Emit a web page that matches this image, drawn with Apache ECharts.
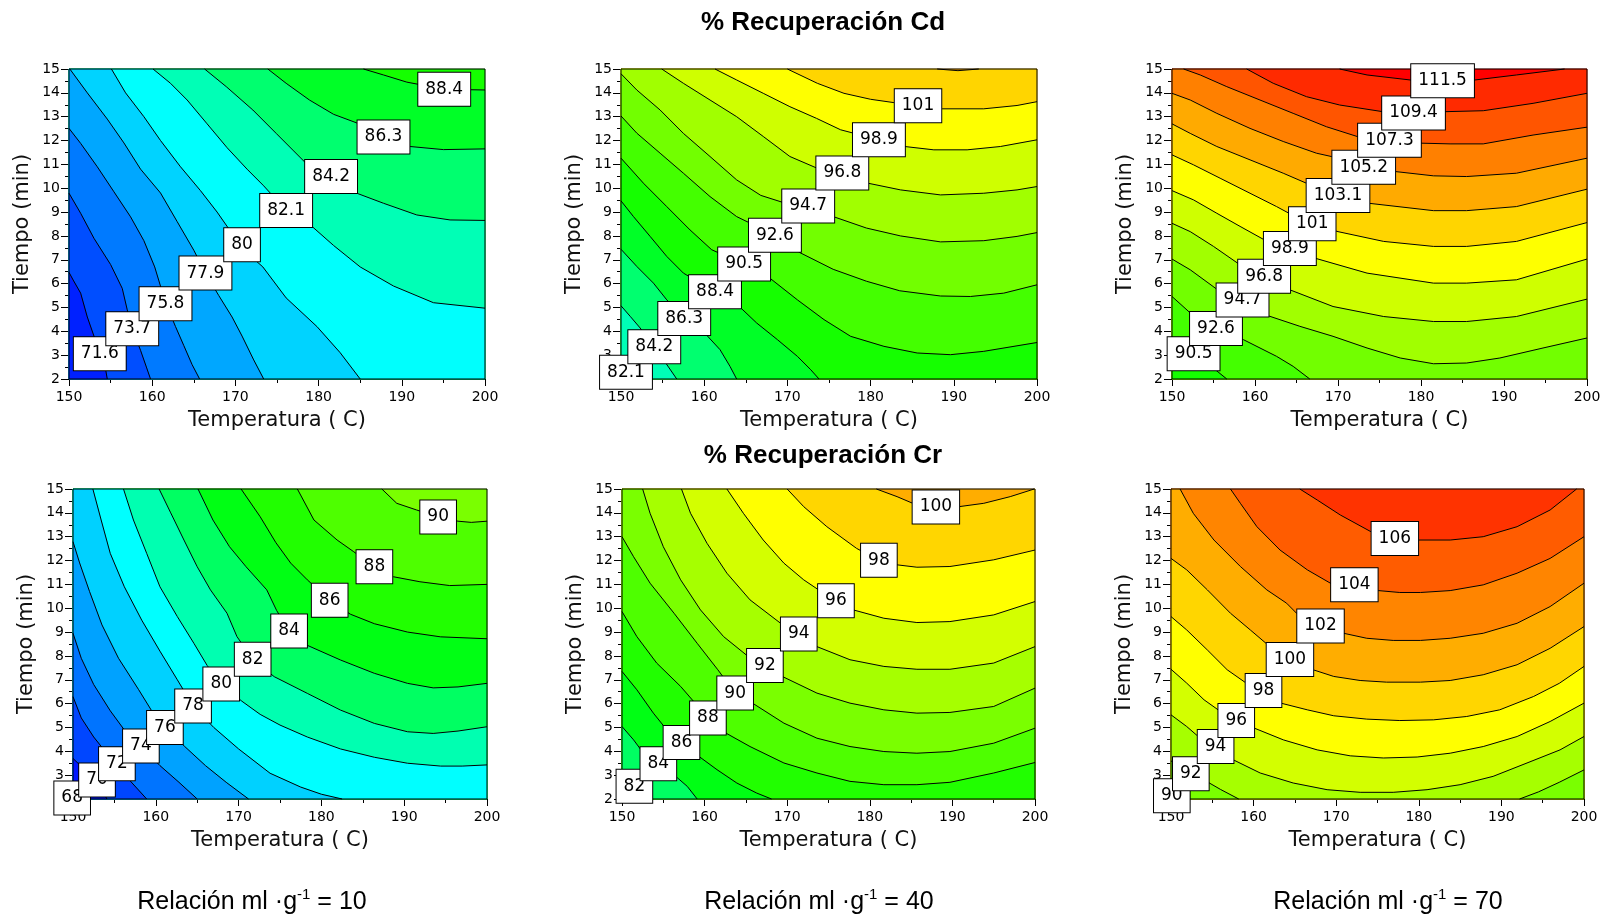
<!DOCTYPE html>
<html>
<head>
<meta charset="utf-8">
<title>% Recuperación Cd / Cr</title>
<script src="https://cdn.jsdelivr.net/npm/echarts/dist/echarts.min.js"></script>
<style>
  html, body { margin: 0; padding: 0; background: #fff; }
  #chart { width: 1608px; height: 921px; }
</style>
</head>
<body>
<div id="chart"></div>
<script>
  // ejes
  const tempTicks = [150, 160, 170, 180, 190, 200];
  const timeTicks = [2, 3, 4, 5, 6, 7, 8, 9, 10, 11, 12, 13, 14, 15];
  const ratios = [10, 40, 70];
  const cdStep = 2.1;
  const crStep = 2;

  // curvas de nivel: [nivel, [[temperatura, tiempo], ...]]
  const cd10Lines = [
    [71.6, [[150, 6.47], [150.5, 6.15], [151.4, 5.6], [152.2, 4.6], [153, 3.8], [153.8, 3.0], [154.4, 2.4], [154.6, 2]]],
    [73.7, [[150, 9.79], [151.4, 8.95], [153, 7.9], [155, 6.8], [156.4, 5.8], [157, 4.9], [157.6, 4.1], [158.6, 3.2], [159.3, 2.5], [159.8, 2]]],
    [75.8, [[150, 12.51], [151.4, 11.88], [153.4, 10.9], [155.4, 9.85], [157.4, 8.8], [159, 7.8], [160.3, 6.7], [161.6, 5.2], [162.8, 4.2], [163.8, 3.4], [164.8, 2.6], [165.7, 2]]],
    [77.9, [[150.1, 15], [152.2, 14], [154.6, 12.9], [156.6, 11.9], [158.6, 10.8], [161, 9.8], [163, 8.6], [165, 7.4], [166.4, 6.44], [168, 5.5], [169.6, 4.6], [170.8, 3.8], [172.2, 2.8], [173.4, 2]]],
    [80, [[155.1, 15], [156.8, 14], [159, 13], [161, 12], [163.4, 10.9], [165.8, 9.9], [167.8, 9], [169.4, 8.2], [170.8, 7.6], [172, 7.1], [173.3, 6.7], [176.1, 5.4], [179.8, 4.2], [182.6, 3.1], [185, 2]]],
    [82.1, [[160.1, 15], [162.2, 14.4], [164.2, 13.7], [166.6, 12.7], [169, 11.7], [171.4, 10.8], [173.4, 10.1], [176.1, 9.07], [179.2, 8.4], [181.8, 7.6], [185, 6.7], [189, 5.9], [193.8, 5.2], [200, 4.97]]],
    [84.2, [[166.3, 15], [168.9, 14.26], [172.1, 13.28], [174.9, 12.3], [176.9, 11.6], [178.9, 10.9], [181.5, 10.45], [184.6, 9.79], [187.8, 9.37], [191.8, 8.88], [195.8, 8.67], [200, 8.65]]],
    [86.3, [[173.9, 15], [176.1, 14.4], [178.9, 13.7], [181.8, 13.1], [184.5, 12.75], [187.8, 12.17], [191, 11.75], [195, 11.62], [200, 11.65]]],
    [88.4, [[185.4, 15], [187.8, 14.75], [190.6, 14.45], [195.1, 14.15], [200, 14.12]]]
  ];
  const cd10Labels = [[153.7, 3.06, 71.6], [157.6, 4.11, 73.7], [161.6, 5.16, 75.8], [166.4, 6.44, 77.9], [170.8, 7.63, 80],
    [176.1, 9.07, 82.1], [181.5, 10.49, 84.2], [187.8, 12.15, 86.3], [195.1, 14.15, 88.4]];

  const cd40Lines = [
    [82.1, [[150, 2.5], [150.6, 2.28], [151.2, 2]]],
    [84.2, [[150, 5.07], [151.1, 4.63], [152.3, 4.14], [153.5, 3.51], [155.1, 2.81], [156.7, 2]]],
    [86.3, [[150, 7.44], [151.9, 6.72], [153.9, 6.02], [155.5, 5.32], [157.6, 4.54], [160, 3.95], [161.9, 3.23], [163.1, 2.53], [163.9, 2]]],
    [88.4, [[150, 9.47], [151.5, 8.81], [153.5, 7.98], [155.5, 7.14], [157.5, 6.44], [161.3, 5.66], [164.4, 4.98], [166.3, 4.35], [168.8, 3.65], [171.2, 2.95], [172.8, 2.39], [173.8, 2]]],
    [90.5, [[150, 11.26], [152.7, 10.21], [155.5, 9.23], [158.3, 8.25], [160.9, 7.42], [164.8, 6.82], [168, 6.2], [171.2, 5.32], [174.4, 4.49], [177.6, 3.79], [181.6, 3.37], [185.6, 3.09], [189.6, 3.02], [193.6, 3.16], [200, 3.53]]],
    [92.6, [[150, 13.03], [151.9, 12.31], [154.7, 11.47], [157.5, 10.63], [160.7, 9.65], [163.9, 8.81], [168.5, 8.03], [171.5, 7.3], [175.5, 6.6], [179.5, 6.1], [183.5, 5.7], [188.4, 5.48], [192, 5.46], [196, 5.6], [200, 5.95]]],
    [94.7, [[150, 14.8], [151.9, 14.12], [154.7, 13.28], [157.5, 12.3], [160.7, 11.33], [163.9, 10.35], [166.8, 9.7], [169.5, 9.4], [172.5, 9.2], [175.6, 8.8], [179.5, 8.33], [183.6, 8.0], [188.4, 7.75], [193.6, 7.8], [197.6, 7.98], [200, 8.14]]],
    [96.8, [[154.9, 15], [157.5, 14.4], [160.7, 13.7], [163.9, 13.0], [167.1, 12.17], [170.3, 11.33], [173.5, 10.85], [176.6, 10.6], [179.7, 10.21], [183.6, 9.93], [188.4, 9.72], [193.6, 9.79], [197.6, 9.93], [200, 10.07]]],
    [98.9, [[161.3, 15], [163.9, 14.54], [167.1, 13.98], [170.3, 13.42], [173.5, 12.93], [176.4, 12.45], [181, 12.03], [184.1, 11.75], [187.6, 11.61], [191.6, 11.61], [195.6, 11.75], [200, 12.03]]],
    [101, [[170, 15], [173.6, 14.4], [176.8, 13.98], [180, 13.73], [182.8, 13.59], [185.7, 13.46], [188.6, 13.33], [193.6, 13.33], [197.6, 13.47], [200, 13.63]]],
    [103.1, [[188, 15], [190.5, 14.93], [193, 15]]]
  ];
  const cd40Labels = [[150.6, 2.28, 82.1], [154, 3.35, 84.2], [157.6, 4.54, 86.3], [161.3, 5.66, 88.4], [164.8, 6.82, 90.5],
    [168.5, 8.03, 92.6], [172.5, 9.26, 94.7], [176.6, 10.64, 96.8], [181, 12.03, 98.9], [185.7, 13.46, 101]];

  const cd70Lines = [
    [90.5, [[150, 3.2], [152.6, 3.06], [155, 2.45], [156.6, 2]]],
    [92.6, [[150, 5.46], [152.2, 4.77], [155.3, 4.12], [158.6, 3.65], [162.6, 2.95], [164.6, 2.53], [166.6, 2]]],
    [94.7, [[150, 7.03], [152.2, 6.58], [155.5, 5.74], [158.5, 5.31], [161.6, 4.65], [165.4, 4.21], [169.4, 3.79], [173.5, 3.3], [177.5, 2.88], [181.5, 2.64], [185.5, 2.67], [189.5, 2.88], [194.7, 3.3], [200, 3.72]]],
    [96.8, [[150, 8.53], [152.2, 8.18], [155, 7.56], [157.9, 6.86], [161.1, 6.31], [164.2, 5.74], [169.4, 5.04], [175.5, 4.62], [181.5, 4.41], [185.5, 4.41], [191.5, 4.62], [200, 5.35]]],
    [98.9, [[150, 9.9], [152.6, 9.51], [155.4, 8.95], [158.2, 8.4], [161.1, 7.84], [164.2, 7.47], [167.2, 7.07], [173.5, 6.44], [181.5, 6.02], [185.5, 6.02], [191.5, 6.16], [200, 7.03]]],
    [101, [[150, 11.4], [152.6, 10.98], [155.8, 10.42], [159.4, 9.79], [162.6, 9.23], [164.1, 8.95], [166.9, 8.51], [170, 8.18], [175.5, 7.77], [181.5, 7.56], [185.5, 7.56], [191.5, 7.77], [200, 8.56]]],
    [103.1, [[150, 12.7], [152.2, 12.3], [155.4, 11.75], [159.4, 11.19], [163.4, 10.63], [166.2, 10.21], [170, 9.69], [173.7, 9.37], [181.5, 9.06], [185.5, 9.06], [191.5, 9.23], [200, 9.96]]],
    [105.2, [[150, 13.98], [152.2, 13.7], [155.4, 13.14], [159.4, 12.51], [163.4, 11.96], [167.4, 11.47], [169.2, 11.33], [173.1, 10.88], [176.9, 10.7], [181.5, 10.52], [185.5, 10.49], [191.5, 10.63], [200, 11.26]]],
    [107.3, [[151.4, 15], [153.4, 14.75], [156.6, 14.26], [160.6, 13.7], [164.6, 13.14], [168.6, 12.58], [172.4, 12.16], [176.2, 12.01], [180, 11.89], [183.5, 11.86], [187.5, 11.86], [193.5, 12.23], [200, 12.56]]],
    [109.4, [[159, 15], [162.2, 14.4], [166.2, 13.84], [170.2, 13.49], [175.4, 13.21], [179.1, 13.16], [182.9, 13.21], [187.5, 13.25], [193.5, 13.56], [200, 13.98]]],
    [111.5, [[170.2, 15], [173.5, 14.75], [178.7, 14.54], [182.6, 14.5], [186.5, 14.54], [191.5, 14.75], [197.3, 15]]]
  ];
  const cd70Labels = [[152.6, 3.06, 90.5], [155.3, 4.12, 92.6], [158.5, 5.31, 94.7], [161.1, 6.31, 96.8], [164.2, 7.47, 98.9],
    [166.9, 8.51, 101], [170, 9.69, 103.1], [173.1, 10.88, 105.2], [176.2, 12.01, 107.3], [179.1, 13.16, 109.4], [182.6, 14.51, 111.5]];

  const cr10Lines = [
    [68, [[150, 2.4], [150.6, 2]]],
    [70, [[150, 3.7], [151.5, 3.2], [152.9, 2.75], [154.1, 2]]],
    [72, [[150, 6.29], [151, 5.4], [152.5, 4.6], [154, 3.95], [155.3, 3.48], [156.8, 2.8], [158.9, 2]]],
    [74, [[150, 8.95], [151, 7.9], [152.5, 6.8], [154.5, 5.7], [156.4, 4.8], [158.2, 4.22], [160.5, 3.4], [162.8, 2.7], [165, 2]]],
    [76, [[150, 12.79], [150.8, 11.9], [152, 10.7], [153.5, 9.3], [155.5, 7.9], [157.9, 6.6], [159.5, 5.7], [161.1, 5.0], [163.5, 4.2], [166, 3.4], [168.5, 2.7], [171.2, 2]]],
    [78, [[152.4, 15], [153.4, 13.7], [154.5, 12.3], [156.2, 10.9], [158.3, 9.5], [160.5, 8.2], [162.6, 7.0], [164.5, 5.9], [167, 5.0], [170, 4.1], [173.8, 3.08], [177.5, 2.5], [180, 2.2], [182.5, 2]]],
    [80, [[156.1, 15], [157.3, 13.7], [158.9, 12.3], [160.5, 10.9], [162.6, 9.65], [164.6, 8.53], [166.2, 7.6], [167.9, 6.82], [170.4, 6.1], [172.6, 5.55], [175, 5.1], [178.3, 4.6], [182.3, 4.1], [186.4, 3.75], [190.4, 3.5], [194.4, 3.38], [197, 3.38], [200, 3.43]]],
    [82, [[160.4, 15], [161.8, 14], [163.4, 12.86], [165, 11.74], [166.6, 10.77], [168.6, 9.79], [169.8, 8.81], [171.7, 7.86], [174.3, 7.13], [178.3, 6.43], [182.3, 5.73], [186.4, 5.17], [190.4, 4.82], [193.5, 4.75], [196.5, 4.85], [200, 5.03]]],
    [84, [[165.1, 15], [166.9, 13.7], [168.9, 12.58], [170.9, 11.74], [173.4, 10.77], [174.6, 9.9], [176.1, 9.05], [178.2, 8.46], [182.3, 7.83], [186.4, 7.27], [190.4, 6.85], [193.5, 6.66], [196.5, 6.7], [200, 6.85]]],
    [86, [[170.3, 15], [172.6, 13.84], [174.5, 12.75], [176.3, 11.89], [178.3, 11.19], [181, 10.33], [183.5, 9.75], [186.4, 9.35], [190.4, 9.0], [194.4, 8.8], [200, 8.72]]],
    [88, [[177.1, 15], [179.1, 13.7], [181.9, 12.86], [183.9, 12.37], [186.4, 11.74], [188.7, 11.32], [191.9, 11.11], [195.5, 10.95], [200, 11.0]]],
    [90, [[187.3, 15], [189.1, 14.4], [191.5, 14.12], [194.1, 13.83], [196.5, 13.65], [198.1, 13.6], [200, 13.65]]]
  ];
  const cr10Labels = [[149.9, 2.04, 68], [152.9, 2.8, 70], [155.3, 3.48, 72], [158.2, 4.22, 74], [161.1, 5.0, 76], [164.5, 5.9, 78],
    [167.9, 6.82, 80], [171.7, 7.86, 82], [176.1, 9.05, 84], [181, 10.33, 86], [186.4, 11.74, 88], [194.1, 13.83, 90]];

  const cr40Lines = [
    [82, [[150, 3.0], [151.5, 2.53], [153, 2]]],
    [84, [[150, 5.04], [151.4, 4.48], [152.3, 4.06], [154.4, 3.48], [156.5, 2.95], [157.9, 2.53], [159.1, 2]]],
    [86, [[150, 7.35], [151.8, 6.58], [153.8, 5.6], [155.1, 5.04], [157.2, 4.37], [159.3, 3.79], [161.5, 3.23], [163.9, 2.67], [166.3, 2.25], [168.1, 2]]],
    [88, [[150, 9.86], [151.8, 8.81], [154.2, 7.7], [157.1, 6.72], [160.4, 5.4], [162.6, 4.76], [165.5, 4.2], [169.6, 3.51], [173.6, 3.09], [177.6, 2.74], [181.7, 2.6], [185.7, 2.6], [189.7, 2.7], [195, 3.09], [200, 3.53]]],
    [90, [[150, 13.0], [151.4, 12.16], [153.4, 11.05], [156.3, 9.79], [159.1, 8.53], [161.6, 7.42], [163.7, 6.44], [165.8, 6.02], [169.6, 5.18], [173.6, 4.55], [177.6, 4.2], [181.7, 3.99], [185.7, 3.92], [189.7, 3.99], [195, 4.34], [200, 4.97]]],
    [92, [[152.5, 15], [153.4, 13.98], [155, 12.58], [157.1, 11.19], [159.5, 9.93], [162.3, 8.81], [165.3, 7.97], [167.3, 7.6], [169.4, 7.14], [173.6, 6.44], [177.6, 6.02], [181.7, 5.74], [185.7, 5.6], [189.7, 5.63], [195, 5.88], [200, 6.65]]],
    [94, [[157.2, 15], [158.3, 13.98], [160.3, 12.72], [162.7, 11.47], [165.5, 10.35], [169.2, 9.37], [171.4, 8.92], [173.6, 8.39], [177.6, 7.84], [181.7, 7.56], [185.7, 7.44], [189.7, 7.44], [195, 7.7], [200, 8.39]]],
    [96, [[162.7, 15], [164.7, 13.98], [167.1, 12.86], [169.6, 11.89], [172, 11.19], [173.8, 10.77], [175.9, 10.31], [178, 9.93], [181.7, 9.58], [185.7, 9.4], [189.7, 9.44], [195, 9.72], [200, 10.28]]],
    [98, [[170, 15], [172, 14.26], [174.8, 13.42], [178.4, 12.51], [181.1, 12.01], [183.3, 11.82], [185.7, 11.72], [189.7, 11.75], [195, 12.03], [200, 12.44]]],
    [100, [[180.8, 15], [183.3, 14.68], [185.2, 14.4], [188, 14.25], [190.8, 14.26], [193.8, 14.4], [197, 14.68], [199.9, 15]]]
  ];
  const cr40Labels = [[151.5, 2.53, 82], [154.4, 3.48, 84], [157.2, 4.37, 86], [160.4, 5.4, 88], [163.7, 6.44, 90],
    [167.3, 7.6, 92], [171.4, 8.92, 94], [175.9, 10.31, 96], [181.1, 12.01, 98], [188, 14.25, 100]];

  const cr70Lines = [
    [90, [[150, 2.35], [151, 2]]],
    [92, [[150, 3.6], [151.2, 3.3], [152.4, 3.06], [154, 2.8], [156, 2.4], [158.2, 2]]],
    [92, [[192.2, 2], [194.5, 2.3], [197, 2.7], [200, 3.22]]],
    [94, [[150, 5.53], [151.9, 5.04], [153.3, 4.62], [155.4, 4.2], [157.5, 3.65], [160.8, 3.09], [164.8, 2.67], [168.9, 2.39], [172.9, 2.28], [176.9, 2.28], [181, 2.39], [185, 2.6], [189, 2.95], [193.1, 3.51], [197.1, 4.06], [200, 4.62]]],
    [96, [[150, 7.44], [151.9, 6.86], [154, 6.16], [155.7, 5.74], [157.9, 5.29], [160.1, 4.97], [163.6, 4.48], [167.7, 4.06], [171.7, 3.81], [175.7, 3.72], [179.8, 3.76], [183.8, 3.92], [187.8, 4.2], [191.9, 4.62], [195.9, 5.25], [200, 6.02]]],
    [98, [[150, 9.65], [151.9, 9.09], [154.4, 8.25], [156.8, 7.42], [159.1, 6.86], [161.2, 6.55], [163.3, 6.02], [166.5, 5.74], [169.7, 5.49], [173.7, 5.35], [177.7, 5.29], [181.8, 5.32], [185.8, 5.46], [189.8, 5.74], [193.9, 6.3], [197, 6.85], [200, 7.56]]],
    [100, [[150, 12.09], [151.9, 11.61], [154.4, 10.77], [157.2, 9.79], [159.6, 9.09], [161.5, 8.53], [164.4, 7.85], [167.2, 7.42], [169.7, 7.14], [172.9, 6.97], [176.1, 6.9], [180.2, 6.9], [183.8, 6.97], [187.8, 7.21], [191.9, 7.63], [195.9, 8.32], [200, 9.23]]],
    [102, [[151.1, 15], [152.7, 13.98], [155.2, 12.86], [158.4, 11.75], [161.6, 10.77], [164, 10.21], [165.2, 9.79], [168.1, 9.26], [170.9, 8.95], [173.7, 8.74], [176.9, 8.65], [180.2, 8.65], [183.8, 8.74], [187.8, 8.95], [191.9, 9.37], [195.9, 10.07], [200, 11.05]]],
    [104, [[157.2, 15], [158.4, 14.4], [160.4, 13.42], [163.2, 12.44], [166.5, 11.61], [169.3, 11.05], [172.2, 10.98], [175.1, 10.74], [177.7, 10.66], [180.2, 10.66], [183.8, 10.74], [187.8, 10.98], [191.9, 11.47], [195.9, 12.09], [200, 13.0]]],
    [106, [[165.6, 15], [167.7, 14.54], [170.5, 13.91], [174.2, 13.21], [177.1, 12.92], [180, 12.86], [183.8, 12.86], [187.8, 13.0], [191.9, 13.42], [195.9, 14.12], [199.1, 15]]]
  ];
  const cr70Labels = [[150.1, 2.14, 90], [152.4, 3.06, 92], [155.4, 4.2, 94], [157.9, 5.29, 96], [161.2, 6.55, 98],
    [164.4, 7.85, 100], [168.1, 9.26, 102], [172.2, 10.98, 104], [177.1, 12.92, 106]];

  // escala de color (tipo jet)
  const cdStops = [[69, [0, 0, 255]], [81, [0, 255, 255]], [88.5, [0, 255, 0]], [100, [255, 255, 0]], [112.5, [255, 0, 0]]];
  const crStops = [[68, [0, 0, 255]], [79, [0, 255, 255]], [85.5, [0, 255, 0]], [97, [255, 255, 0]], [109.5, [255, 0, 0]]];

  const X0 = tempTicks[0], X1 = tempTicks[tempTicks.length - 1];
  const Y0 = timeTicks[0], Y1 = timeTicks[timeTicks.length - 1];
  const corners = [[X0, Y0], [X1, Y0], [X1, Y1], [X0, Y1]];

  function colorAt (stops, v) {
    if (v <= stops[0][0]) return 'rgb(' + stops[0][1].join(',') + ')';
    for (let i = 0; i < stops.length - 1; i++) {
      const a = stops[i], b = stops[i + 1];
      if (v <= b[0]) {
        const f = (v - a[0]) / (b[0] - a[0]);
        const c = a[1].map((x, k) => Math.round(x + (b[1][k] - x) * f));
        return 'rgb(' + c.join(',') + ')';
      }
    }
    return 'rgb(' + stops[stops.length - 1][1].join(',') + ')';
  }

  // posicion sobre el borde del recuadro, recorrido antihorario
  function perim (p) {
    const e = 1e-6;
    if (Math.abs(p[1] - Y0) < e) return (p[0] - X0) / (X1 - X0);
    if (Math.abs(p[0] - X1) < e) return 1 + (p[1] - Y0) / (Y1 - Y0);
    if (Math.abs(p[1] - Y1) < e) return 2 + (X1 - p[0]) / (X1 - X0);
    return 3 + (Y1 - p[1]) / (Y1 - Y0);
  }

  // region por debajo de la curva (valores altos a la izquierda del trazo)
  function lowSide (pts) {
    const s0 = perim(pts[0]);
    let s1 = perim(pts[pts.length - 1]);
    if (s1 <= s0) s1 += 4;
    const poly = pts.slice().reverse();
    for (let c = Math.floor(s0) + 1; c < s1; c++) poly.push(corners[c % 4]);
    return poly;
  }

  function buildFills (lines, step, stops) {
    const top = Math.max.apply(null, lines.map(l => l[0]));
    const shapes = [{pts: corners, color: colorAt(stops, top + step / 2)}];
    lines.slice().sort((a, b) => b[0] - a[0]).forEach(function (l) {
      shapes.push({pts: lowSide(l[1]), color: colorAt(stops, l[0] - step / 2)});
    });
    return shapes;
  }

  const panels = [
    {lines: cd10Lines, labels: cd10Labels, step: cdStep, stops: cdStops, left: 69, top: 69, width: 416},
    {lines: cd40Lines, labels: cd40Labels, step: cdStep, stops: cdStops, left: 621, top: 69, width: 416},
    {lines: cd70Lines, labels: cd70Labels, step: cdStep, stops: cdStops, left: 1172, top: 69, width: 415},
    {lines: cr10Lines, labels: cr10Labels, step: crStep, stops: crStops, left: 73, top: 489, width: 414},
    {lines: cr40Lines, labels: cr40Labels, step: crStep, stops: crStops, left: 622, top: 489, width: 413},
    {lines: cr70Lines, labels: cr70Labels, step: crStep, stops: crStops, left: 1171, top: 489, width: 413}
  ];

  const tickFont = 'DejaVu Sans';
  const series = [];
  panels.forEach(function (p, i) {
    const fills = buildFills(p.lines, p.step, p.stops);
    series.push({
      type: 'custom',
      coordinateSystem: 'cartesian2d',
      xAxisIndex: i,
      yAxisIndex: i,
      z: 1,
      silent: true,
      data: fills.map((f, k) => [175, 8, k]),
      renderItem: function (params, api) {
        const f = fills[params.dataIndex];
        return {
          type: 'polygon',
          shape: {points: f.pts.map(q => api.coord(q))},
          style: {fill: f.color, stroke: f.color, lineWidth: 0.5}
        };
      }
    });
    series.push({
      type: 'custom',
      coordinateSystem: 'cartesian2d',
      xAxisIndex: i,
      yAxisIndex: i,
      z: 2,
      silent: true,
      clip: false,
      data: p.lines.map((l, k) => [175, 8, k]).concat([[175, 8, -1]]),
      renderItem: function (params, api) {
        if (params.dataIndex === p.lines.length) {
          const a = api.coord([X0, Y1]);
          const b = api.coord([X1, Y0]);
          return {
            type: 'rect',
            shape: {x: a[0], y: a[1], width: b[0] - a[0], height: b[1] - a[1]},
            style: {fill: 'none', stroke: '#000', lineWidth: 1}
          };
        }
        const l = p.lines[params.dataIndex];
        return {
          type: 'polyline',
          shape: {points: l[1].map(q => api.coord(q))},
          style: {fill: 'none', stroke: '#000', lineWidth: 1}
        };
      }
    });
    series.push({
      type: 'scatter',
      xAxisIndex: i,
      yAxisIndex: i,
      z: 3,
      silent: true,
      clip: false,
      symbol: 'rect',
      symbolSize: 0,
      itemStyle: {color: '#fff', opacity: 1},
      data: p.labels.map(d => [d[0], d[1], d[2]]),
      label: {
        show: true,
        position: 'inside',
        formatter: q => String(q.value[2]),
        color: '#000',
        opacity: 1,
        fontFamily: tickFont,
        fontSize: 17,
        lineHeight: 19,
        backgroundColor: '#fff',
        borderColor: '#000',
        borderWidth: 1,
        padding: [7, 7, 7, 7]
      }
    });
  });

  const nameStyle = {color: '#111', fontFamily: tickFont, fontSize: 21};

  const option = {
    animation: false,
    backgroundColor: '#fff',
    grid: panels.map(p => ({left: p.left, top: p.top, width: p.width, height: 310, containLabel: false, outerBoundsMode: 'none'})),
    xAxis: panels.map((p, i) => ({
      gridIndex: i,
      type: 'value',
      min: X0,
      max: X1,
      interval: tempTicks[1] - tempTicks[0],
      name: 'Temperatura ( C)',
      nameLocation: 'middle',
      nameGap: 31,
      nameMoveOverlap: false,
      nameTextStyle: nameStyle,
      axisLine: {show: true, onZero: false, lineStyle: {color: '#000', width: 1}},
      axisTick: {show: true, length: 7, lineStyle: {color: '#000'}},
      minorTick: {show: true, splitNumber: 2, length: 4, lineStyle: {color: '#000'}},
      splitLine: {show: false},
      axisLabel: {color: '#000', fontFamily: tickFont, fontSize: 14, margin: 11, showMinLabel: true, showMaxLabel: true, hideOverlap: false}
    })),
    yAxis: panels.map((p, i) => ({
      gridIndex: i,
      type: 'value',
      min: Y0,
      max: Y1,
      interval: timeTicks[1] - timeTicks[0],
      name: 'Tiempo (min)',
      nameLocation: 'middle',
      nameGap: 36,
      nameMoveOverlap: false,
      nameTextStyle: nameStyle,
      axisLine: {show: true, onZero: false, lineStyle: {color: '#000', width: 1}},
      axisTick: {show: true, length: 8, lineStyle: {color: '#000'}},
      minorTick: {show: true, splitNumber: 2, length: 4, lineStyle: {color: '#000'}},
      splitLine: {show: false},
      axisLabel: {color: '#000', fontFamily: tickFont, fontSize: 14, margin: 9, showMinLabel: true, showMaxLabel: true, hideOverlap: false}
    })),
    graphic: [
      {type: 'text', x: 823, y: 23, style: {text: '% Recuperación Cd', fill: '#000', font: 'bold 26px "Liberation Sans", Arial, sans-serif', align: 'center', verticalAlign: 'middle'}},
      {type: 'text', x: 823, y: 456, style: {text: '% Recuperación Cr', fill: '#000', font: 'bold 26px "Liberation Sans", Arial, sans-serif', align: 'center', verticalAlign: 'middle'}}
    ].concat(ratios.map((r, k) => ({
      type: 'text',
      x: [252, 819, 1388][k],
      y: 902,
      style: {
        text: '{a|Relación ml ·g}{s|-1}{a| = ' + r + '}',
        align: 'center',
        verticalAlign: 'middle',
        rich: {
          a: {fill: '#000', fontFamily: 'Liberation Sans', fontSize: 25, lineHeight: 30},
          s: {fill: '#000', fontFamily: 'Liberation Sans', fontSize: 15, lineHeight: 30, verticalAlign: 'top'}
        }
      }
    }))),
    series: series
  };

  const chart = echarts.init(document.getElementById('chart'));
  chart.setOption(option);
</script>
</body>
</html>
